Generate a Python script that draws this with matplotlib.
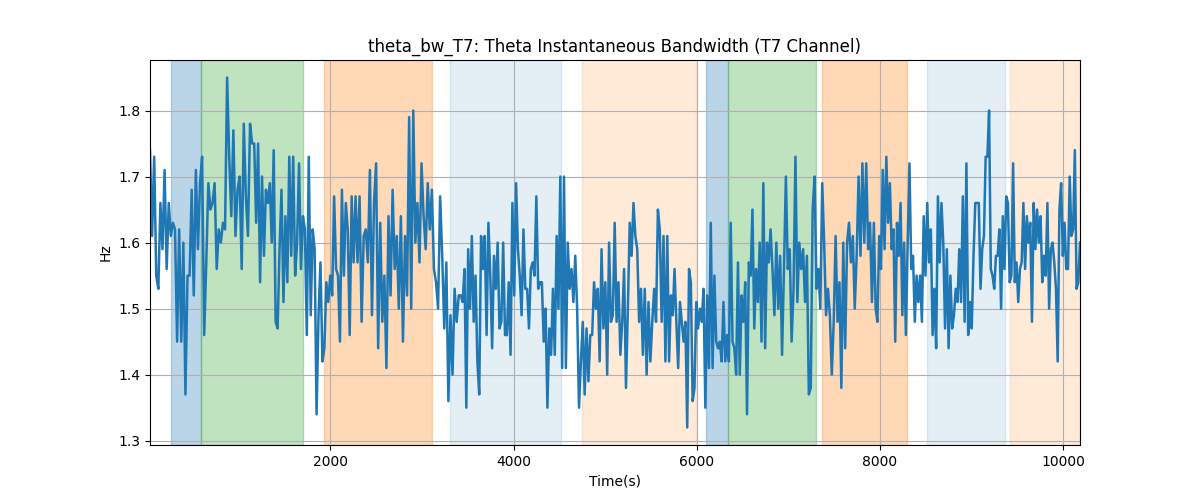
import numpy as np
import matplotlib
matplotlib.use('Agg')
import matplotlib.pyplot as plt

# bandwidth readings, one list per stretch of the record
bw_01 = [1.74, 1.61, 1.73, 1.55, 1.53, 1.66, 1.59, 1.71, 1.56, 1.66, 1.61, 1.63, 1.62, 1.45, 1.62,
         1.45, 1.60, 1.37, 1.55, 1.55, 1.68, 1.52, 1.71, 1.59, 1.69, 1.73, 1.46, 1.57, 1.69, 1.65,
         1.66, 1.69, 1.56, 1.62, 1.60, 1.63, 1.62, 1.85, 1.73, 1.64, 1.77, 1.61, 1.68, 1.70, 1.56,
         1.78, 1.67, 1.61, 1.78, 1.75]
bw_02 = [1.75, 1.63, 1.75, 1.54, 1.70, 1.58, 1.68, 1.66, 1.69, 1.60, 1.74, 1.48, 1.47, 1.59, 1.68,
         1.51, 1.64, 1.54, 1.73, 1.58, 1.73, 1.55, 1.60, 1.72, 1.56, 1.64, 1.62, 1.46, 1.73, 1.49,
         1.62, 1.59, 1.34, 1.49, 1.57, 1.42, 1.44, 1.54, 1.51, 1.55, 1.52, 1.67, 1.56, 1.55, 1.45,
         1.68, 1.55, 1.66, 1.62, 1.46, 1.67, 1.57, 1.67]
bw_03 = [1.57, 1.67, 1.48, 1.61, 1.62, 1.57, 1.71, 1.49, 1.66, 1.72, 1.44, 1.63, 1.48, 1.55, 1.41,
         1.64, 1.52, 1.68, 1.56, 1.61, 1.50, 1.64, 1.45, 1.61, 1.52, 1.79, 1.50, 1.80, 1.60, 1.66,
         1.57, 1.72, 1.64, 1.59, 1.69, 1.62, 1.68, 1.56, 1.54, 1.50, 1.67, 1.58, 1.47, 1.57, 1.36,
         1.49, 1.40, 1.53, 1.48, 1.52]
bw_04 = [1.52, 1.51, 1.56, 1.35, 1.59, 1.50, 1.61, 1.48, 1.55, 1.42, 1.37, 1.61, 1.56, 1.61, 1.46,
         1.63, 1.55, 1.44, 1.58, 1.53, 1.60, 1.47, 1.48, 1.60, 1.46, 1.46, 1.54, 1.43, 1.66, 1.52,
         1.69, 1.59, 1.55, 1.49, 1.62, 1.53, 1.53, 1.47, 1.56, 1.57, 1.55, 1.67, 1.53, 1.54, 1.54,
         1.45, 1.50, 1.35, 1.47, 1.43, 1.53, 1.43, 1.61, 1.50, 1.70, 1.41]
bw_05 = [1.70, 1.41, 1.60, 1.53, 1.56, 1.51, 1.58, 1.50, 1.35, 1.42, 1.48, 1.37, 1.47, 1.39, 1.46,
         1.46, 1.54, 1.50, 1.53, 1.42, 1.59, 1.47, 1.54, 1.40, 1.60, 1.48, 1.49, 1.63, 1.48, 1.54,
         1.43, 1.48, 1.56, 1.38, 1.50, 1.63, 1.58, 1.66, 1.61, 1.59, 1.48, 1.53, 1.43, 1.53, 1.40,
         1.51, 1.42, 1.48, 1.53, 1.48, 1.65, 1.62, 1.48, 1.61, 1.42]
bw_06 = [1.61, 1.42, 1.52, 1.49, 1.56, 1.48, 1.41, 1.51, 1.48, 1.45, 1.48, 1.32, 1.56, 1.54, 1.36,
         1.38, 1.51, 1.47, 1.50, 1.48, 1.53, 1.35, 1.52, 1.41, 1.63, 1.41, 1.55, 1.45, 1.44, 1.45,
         1.42, 1.51, 1.42, 1.46, 1.42, 1.63, 1.45, 1.44, 1.40, 1.57, 1.40, 1.52, 1.48, 1.54, 1.34,
         1.57, 1.55, 1.65, 1.47, 1.56, 1.51, 1.60, 1.45, 1.69, 1.44, 1.60, 1.57]
bw_07 = [1.62, 1.56, 1.49, 1.60, 1.50, 1.58, 1.43, 1.56, 1.70, 1.56, 1.59, 1.45, 1.53, 1.73, 1.51,
         1.60, 1.56, 1.59, 1.51, 1.58, 1.37, 1.38, 1.65, 1.70, 1.53, 1.56, 1.50, 1.69, 1.60, 1.49,
         1.53, 1.49, 1.40, 1.48, 1.61, 1.48, 1.54, 1.38, 1.60, 1.44, 1.60, 1.63, 1.57, 1.61, 1.50,
         1.58, 1.70, 1.58, 1.72, 1.60, 1.72, 1.59, 1.63, 1.51]
bw_08 = [1.63, 1.50, 1.48, 1.61, 1.56, 1.71, 1.59, 1.73, 1.63, 1.69, 1.59, 1.62, 1.45, 1.63, 1.58,
         1.66, 1.49, 1.60, 1.46, 1.60, 1.72, 1.56, 1.58, 1.48, 1.55, 1.51, 1.55, 1.48, 1.64, 1.55,
         1.66, 1.57, 1.62, 1.46, 1.53, 1.44, 1.67, 1.57, 1.66, 1.60, 1.47, 1.59, 1.44, 1.55, 1.47,
         1.49, 1.53, 1.51, 1.59, 1.51, 1.67, 1.48, 1.72, 1.46, 1.51, 1.47, 1.58, 1.66]
bw_09 = [1.66, 1.66, 1.53, 1.59, 1.61, 1.73, 1.73, 1.80, 1.56, 1.55, 1.53, 1.58, 1.58, 1.62, 1.50,
         1.64, 1.56, 1.67, 1.66, 1.54, 1.55, 1.72, 1.54, 1.57, 1.51, 1.56, 1.57, 1.66, 1.56, 1.64,
         1.60, 1.63, 1.48, 1.66, 1.59, 1.65, 1.60, 1.64, 1.54, 1.58, 1.55, 1.66, 1.50, 1.59, 1.60,
         1.57, 1.53, 1.42, 1.65, 1.69, 1.58, 1.63, 1.56, 1.56, 1.70, 1.61, 1.62, 1.74, 1.53, 1.54,
         1.60]
segments = [bw_01, bw_02, bw_03, bw_04, bw_05, bw_06, bw_07, bw_08, bw_09]
seg_edges = [30, 1168, 2296, 3424, 4551, 5679, 6807, 7935, 9062, 10186]

# shaded intervals (start, end, colour, alpha)
span_start = [259, 587, 1935, 3303, 4749, 6106, 6347, 7366, 8516, 9425]
span_end = [587, 1704, 3106, 4518, 5997, 6347, 7300, 8297, 9370, 10186]
span_color = ['tab:blue', 'tab:green', 'tab:orange', 'tab:blue', 'tab:orange',
              'tab:blue', 'tab:green', 'tab:orange', 'tab:blue', 'tab:orange']
span_alpha = [0.3, 0.3, 0.3, 0.12, 0.16, 0.3, 0.3, 0.3, 0.12, 0.16]

t = []
y = []
for i, seg in enumerate(segments):
    last = (i == len(segments) - 1)
    t.extend(np.linspace(seg_edges[i], seg_edges[i + 1], len(seg), endpoint=last))
    y.extend(seg)

fig, ax = plt.subplots(figsize=(12, 5))
for s, e, c, a in zip(span_start, span_end, span_color, span_alpha):
    ax.axvspan(s, e, color=c, alpha=a)
ax.plot(t, y, color='tab:blue', linewidth=1.8)
ax.set_xlim(t[0], t[-1])
ax.set_title('theta_bw_T7: Theta Instantaneous Bandwidth (T7 Channel)')
ax.set_xlabel('Time(s)')
ax.set_ylabel('Hz')
ax.grid(True)
plt.savefig('out.png')
